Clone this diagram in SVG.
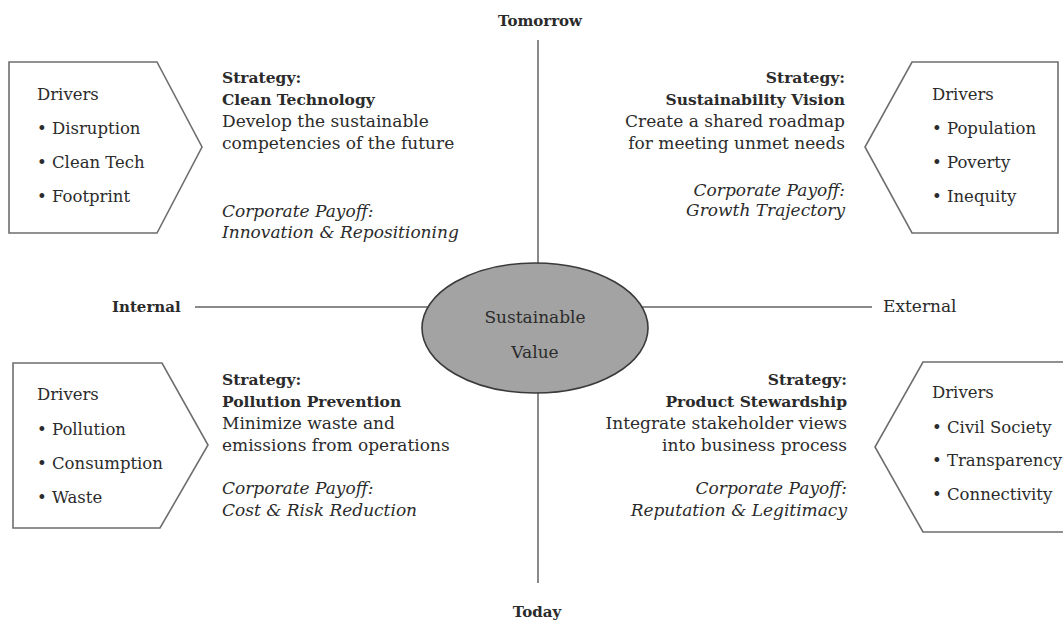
<svg xmlns="http://www.w3.org/2000/svg" width="1063" height="622" viewBox="0 0 1063 622">
<style>
text{font-family:"DejaVu Serif","Liberation Serif",serif;font-size:17px;fill:#2b2b2b}
.d{font-size:16.5px}
.ax{font-size:15px}
.b{font-weight:bold}
.h{font-weight:bold;font-size:15.5px}
.i{font-style:italic}
.e{text-anchor:end}
.m{text-anchor:middle}
.box{fill:#fff;stroke:#6e6e6e;stroke-width:1.6}
.axis{stroke:#8a8a8a;stroke-width:2;fill:none}
</style>
<rect width="1063" height="622" fill="#fff"/>
<g id="connectors">
<line class="axis" x1="538" y1="40" x2="538" y2="583"/>
<line class="axis" x1="195" y1="307" x2="872" y2="307"/>
</g>
<g id="axis-labels">
<text class="ax b m" x="540" y="26">Tomorrow</text>
<text class="ax b m" x="537" y="617">Today</text>
<text class="ax b" x="112" y="312">Internal</text>
<text x="883" y="312">External</text>
</g>
<g id="center">
<ellipse cx="535" cy="328" rx="113" ry="65" fill="#a3a3a3" stroke="#3a3a3a" stroke-width="1.6"/>
<text class="m" x="535" y="323">Sustainable</text>
<text class="m" x="535" y="358">Value</text>
</g>
<g id="drivers-tl">
<polygon class="box" points="9,62 157,62 202,147 157,233 9,233"/>
<text class="d" x="37" y="100">Drivers</text>
<text class="d" x="37" y="134">• Disruption</text>
<text class="d" x="37" y="168">• Clean Tech</text>
<text class="d" x="37" y="202">• Footprint</text>
</g>
<g id="strategy-tl">
<text class="h" x="222" y="83">Strategy:</text>
<text class="h" x="222" y="105">Clean Technology</text>
<text x="222" y="127">Develop the sustainable</text>
<text x="222" y="149">competencies of the future</text>
<text class="i" x="222" y="217">Corporate Payoff:</text>
<text class="i" x="222" y="238">Innovation &amp; Repositioning</text>
</g>
<g id="drivers-tr">
<polygon class="box" points="1058,62 912,62 865,147 912,233 1058,233"/>
<text class="d" x="932" y="100">Drivers</text>
<text class="d" x="932" y="134">• Population</text>
<text class="d" x="932" y="168">• Poverty</text>
<text class="d" x="932" y="202">• Inequity</text>
</g>
<g id="strategy-tr">
<text class="h e" x="845" y="83">Strategy:</text>
<text class="h e" x="845" y="105">Sustainability Vision</text>
<text class="e" x="845" y="127">Create a shared roadmap</text>
<text class="e" x="845" y="149">for meeting unmet needs</text>
<text class="i e" x="845" y="196">Corporate Payoff:</text>
<text class="i e" x="845" y="216">Growth Trajectory</text>
</g>
<g id="drivers-bl">
<polygon class="box" points="13,363 162,363 208,445 160,528 13,528"/>
<text class="d" x="37" y="400">Drivers</text>
<text class="d" x="37" y="435">• Pollution</text>
<text class="d" x="37" y="469">• Consumption</text>
<text class="d" x="37" y="503">• Waste</text>
</g>
<g id="strategy-bl">
<text class="h" x="222" y="385">Strategy:</text>
<text class="h" x="222" y="407">Pollution Prevention</text>
<text x="222" y="429">Minimize waste and</text>
<text x="222" y="451">emissions from operations</text>
<text class="i" x="222" y="494">Corporate Payoff:</text>
<text class="i" x="222" y="516">Cost &amp; Risk Reduction</text>
</g>
<g id="drivers-br">
<polygon class="box" points="1070,362 923,362 875,447 923,532 1070,532"/>
<text class="d" x="932" y="398">Drivers</text>
<text class="d" x="932" y="433">• Civil Society</text>
<text class="d" x="932" y="466">• Transparency</text>
<text class="d" x="932" y="500">• Connectivity</text>
</g>
<g id="strategy-br">
<text class="h e" x="847" y="385">Strategy:</text>
<text class="h e" x="847" y="407">Product Stewardship</text>
<text class="e" x="847" y="429">Integrate stakeholder views</text>
<text class="e" x="847" y="451">into business process</text>
<text class="i e" x="847" y="494">Corporate Payoff:</text>
<text class="i e" x="847" y="516">Reputation &amp; Legitimacy</text>
</g>
</svg>
